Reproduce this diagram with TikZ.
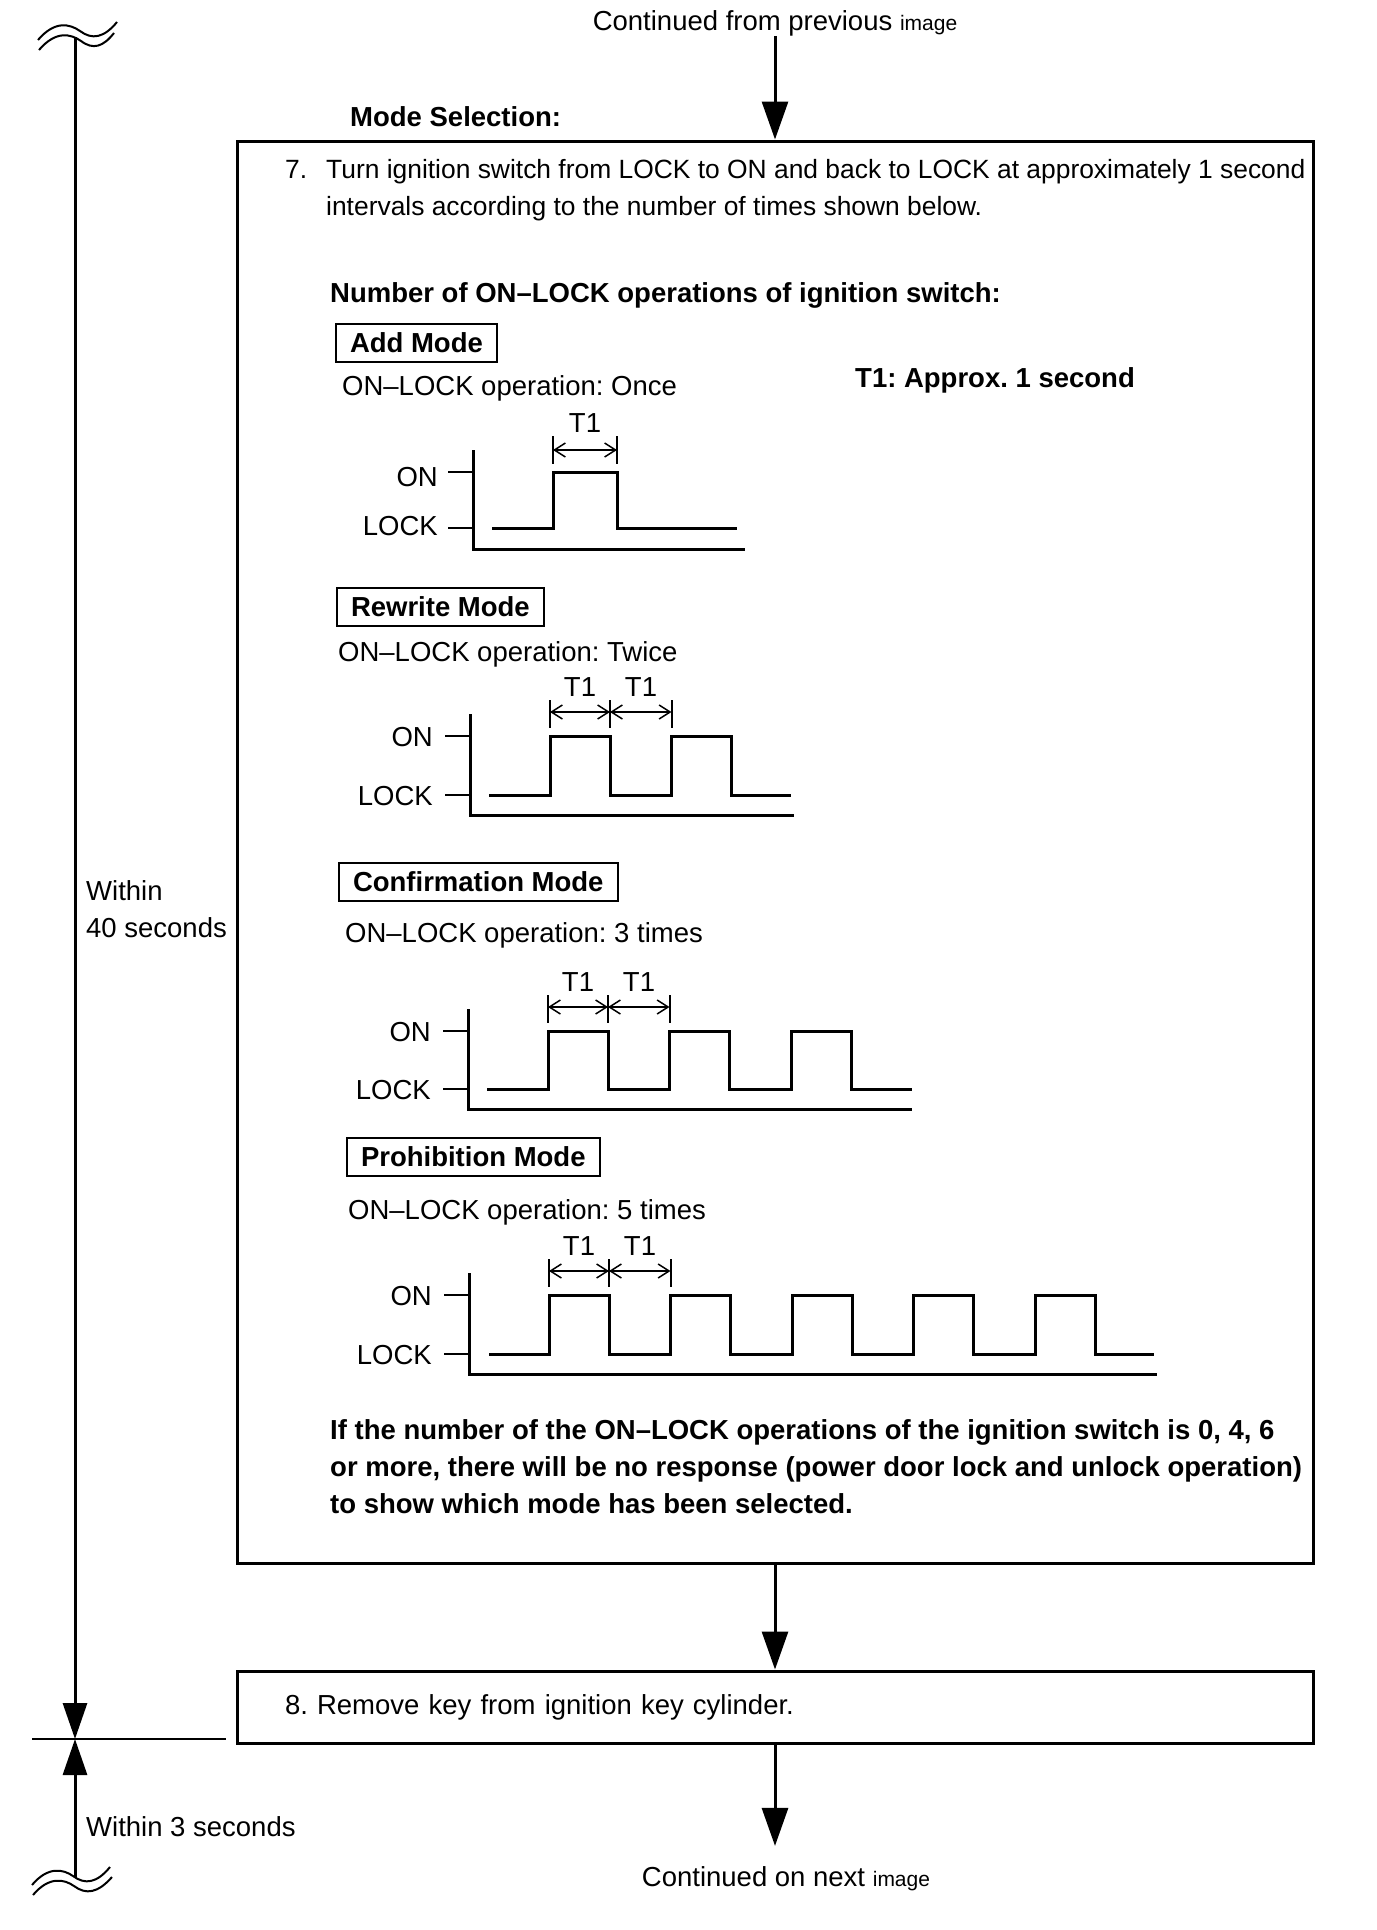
\documentclass[tikz,border=0pt]{standalone}
\usepackage{fontspec}
\setmainfont{Liberation Sans}
\usetikzlibrary{arrows.meta}
\frenchspacing

\begin{document}
\begin{tikzpicture}[x=1pt,y=-1pt,
  every node/.style={font=\fontsize{27.5}{37}\selectfont,inner sep=0pt},
  boldtext/.style={font=\fontsize{27.5}{37}\selectfont\bfseries},
  flow/.style={line width=3pt,-{Triangle[length=38pt,width=26pt]}},
  stepbox/.style={draw,line width=3pt,minimum width=1076pt},
  modebox/.style={draw,line width=2pt,inner xsep=14pt,minimum height=38pt,anchor=west,boldtext},
  sig/.style={line width=3pt},
  tick/.style={line width=2pt},
  tspan/.style={line width=1.5pt,{Straight Barb[length=11pt,width=14pt]}-{Straight Barb[length=11pt,width=14pt]}},
  wave/.style={line width=2pt}]
\useasboundingbox (0,0) rectangle (1376,1930);

% main flow
\node[anchor=base] (prev) at (775,30) {Continued from previous {\fontsize{21}{24}\selectfont image}};
\node[anchor=base west,boldtext] (sel) at (350,126) {Mode Selection:};
\node[stepbox,minimum height=1422pt] (step7) at (775,852) {};
\node[stepbox,minimum height=72pt,text width=980pt,inner xsep=48pt,align=left] (step8) at (775,1707) {8. Remove key from ignition key cylinder.};
\node[anchor=base,inner ysep=20pt] (next) at (786,1886) {Continued on next {\fontsize{21}{24}\selectfont image}};
\draw[flow] (prev) -- (step7);
\draw[flow] (step7) -- (step8);
\draw[flow] (step8) -- (step8.south |- next.north);

% step 7
\node[anchor=base west,font=\fontsize{26.4}{37}\selectfont] (num7) at (285,178) {7.};
\node[anchor=north west,align=left,font=\fontsize{26.4}{37}\selectfont] (turn) at (326,159) {Turn ignition switch from LOCK to ON and back to LOCK at approximately 1 second\\intervals according to the number of times shown below.};
\node[anchor=base west,boldtext] (count) at (330,302) {Number of ON–LOCK operations of ignition switch:};
\node[anchor=base west,boldtext] (t1note) at (855,387) {T1: Approx. 1 second};

\node[modebox] (add) at (335,343) {Add Mode};
\node[anchor=base west] (once) at (342,395) {ON–LOCK operation: Once};
\node[modebox] (rewrite) at (336,606.5) {Rewrite Mode};
\node[anchor=base west] (twice) at (338,661) {ON–LOCK operation: Twice};
\node[modebox] (confirm) at (338,882) {Confirmation Mode};
\node[anchor=base west] (three) at (345,942) {ON–LOCK operation: 3 times};
\node[modebox] (prohibit) at (346,1156.5) {Prohibition Mode};
\node[anchor=base west] (five) at (348,1219) {ON–LOCK operation: 5 times};

\node[anchor=north west,align=left,boldtext] (noresp) at (330,1419) {If the number of the ON–LOCK operations of the ignition switch is 0, 4, 6\\or more, there will be no response (power door lock and unlock operation)\\to show which mode has been selected.};

% add mode: once
\begin{scope}[shift={(473,472)}]
\draw[sig] (0,-22) -- (0,77) -- (272,77);
\draw[tick] (-25,0) -- (0,0);
\draw[tick] (-25,56) -- (0,56);
\draw[sig] (19,56) -- (80,56) -- (80,0) -- (144,0) -- (144,56) -- (264,56);
\draw[tick] (80,-36) -- (80,-8);
\draw[tick] (144,-36) -- (144,-8);
\draw[tspan] (80,-22) -- (144,-22);
\node[anchor=base east] (on1) at (-35,14) {ON};
\node[anchor=base east] (lock1) at (-35,63) {LOCK};
\node[anchor=base] (t1a) at (112,-40) {T1};
\end{scope}

% rewrite mode: twice
\begin{scope}[shift={(470,736)}]
\draw[sig] (0,-22) -- (0,79) -- (324,79);
\draw[tick] (-25,0) -- (0,0);
\draw[tick] (-25,59) -- (0,59);
\draw[sig] (19,59) -- (80,59) -- (80,0) -- (140,0) -- (140,59) -- (201.5,59) -- (201.5,0) -- (261.5,0) -- (261.5,59) -- (321,59);
\draw[tick] (80,-36) -- (80,-8);
\draw[tick] (140,-36) -- (140,-8);
\draw[tick] (201.5,-36) -- (201.5,-8);
\draw[tspan] (80,-24) -- (140,-24);
\draw[tspan] (140,-24) -- (201.5,-24);
\node[anchor=base east] (on2) at (-37,10) {ON};
\node[anchor=base east] (lock2) at (-37,69) {LOCK};
\node[anchor=base] (t1b) at (110,-40) {T1};
\node[anchor=base] (t1c) at (171,-40) {T1};
\end{scope}

% confirmation mode: 3 times
\begin{scope}[shift={(468,1031)}]
\draw[sig] (0,-22) -- (0,78) -- (444,78);
\draw[tick] (-25,0) -- (0,0);
\draw[tick] (-25,58) -- (0,58);
\draw[sig] (19,58) -- (80,58) -- (80,0) -- (140,0) -- (140,58) -- (201.5,58) -- (201.5,0) -- (261.5,0) -- (261.5,58) -- (323,58) -- (323,0) -- (383,0) -- (383,58) -- (444,58);
\draw[tick] (80,-36) -- (80,-8);
\draw[tick] (140,-36) -- (140,-8);
\draw[tick] (201.5,-36) -- (201.5,-8);
\draw[tspan] (80,-24) -- (140,-24);
\draw[tspan] (140,-24) -- (201.5,-24);
\node[anchor=base east] (on3) at (-37,10) {ON};
\node[anchor=base east] (lock3) at (-37,68) {LOCK};
\node[anchor=base] (t1d) at (110,-40) {T1};
\node[anchor=base] (t1e) at (171,-40) {T1};
\end{scope}

% prohibition mode: 5 times
\begin{scope}[shift={(469,1295)}]
\draw[sig] (0,-22) -- (0,79) -- (688,79);
\draw[tick] (-25,0) -- (0,0);
\draw[tick] (-25,59) -- (0,59);
\draw[sig] (20,59) -- (80,59) -- (80,0) -- (140,0) -- (140,59) -- (201.5,59) -- (201.5,0) -- (261.5,0) -- (261.5,59) -- (323,59) -- (323,0) -- (383,0) -- (383,59) -- (444.5,59) -- (444.5,0) -- (504.5,0) -- (504.5,59) -- (566,59) -- (566,0) -- (626,0) -- (626,59) -- (685,59);
\draw[tick] (80,-36) -- (80,-8);
\draw[tick] (140,-36) -- (140,-8);
\draw[tick] (201.5,-36) -- (201.5,-8);
\draw[tspan] (80,-24) -- (140,-24);
\draw[tspan] (140,-24) -- (201.5,-24);
\node[anchor=base east] (on4) at (-37,10) {ON};
\node[anchor=base east] (lock4) at (-37,69) {LOCK};
\node[anchor=base] (t1f) at (110,-40) {T1};
\node[anchor=base] (t1g) at (171,-40) {T1};
\end{scope}

% time line on the left
\coordinate (tltop) at (75,37);
\coordinate (tlmark) at (75,1739);
\coordinate (tlbot) at (75,1877);
\coordinate (markl) at (32,1739);
\coordinate (markr) at (226,1739);
\draw[line width=3pt,-{Triangle[length=36pt,width=24pt]}] (tltop) -- (tlmark);
\draw[line width=3pt,-{Triangle[length=36pt,width=24pt]}] (tlbot) -- (tlmark);
\draw[line width=1.5pt] (markl) -- (markr);
\draw[wave] (38,40) .. controls (55,20) and (70,24) .. (80,31) .. controls (92,40) and (104,38) .. (117,22);
\draw[wave] (39,50) .. controls (56,30) and (71,34) .. (81,41) .. controls (93,50) and (103,47) .. (114,33);
\draw[wave] (32,1885) .. controls (48,1866) and (63,1869) .. (73,1876) .. controls (85,1885) and (97,1883) .. (110,1867);
\draw[wave] (33,1895) .. controls (49,1876) and (64,1879) .. (74,1886) .. controls (86,1895) and (98,1893) .. (112,1877);
\node[anchor=north west,align=left] (within40) at (86,880) {Within\\40 seconds};
\node[anchor=base west] (within3) at (86,1836) {Within 3 seconds};
\end{tikzpicture}
\end{document}
